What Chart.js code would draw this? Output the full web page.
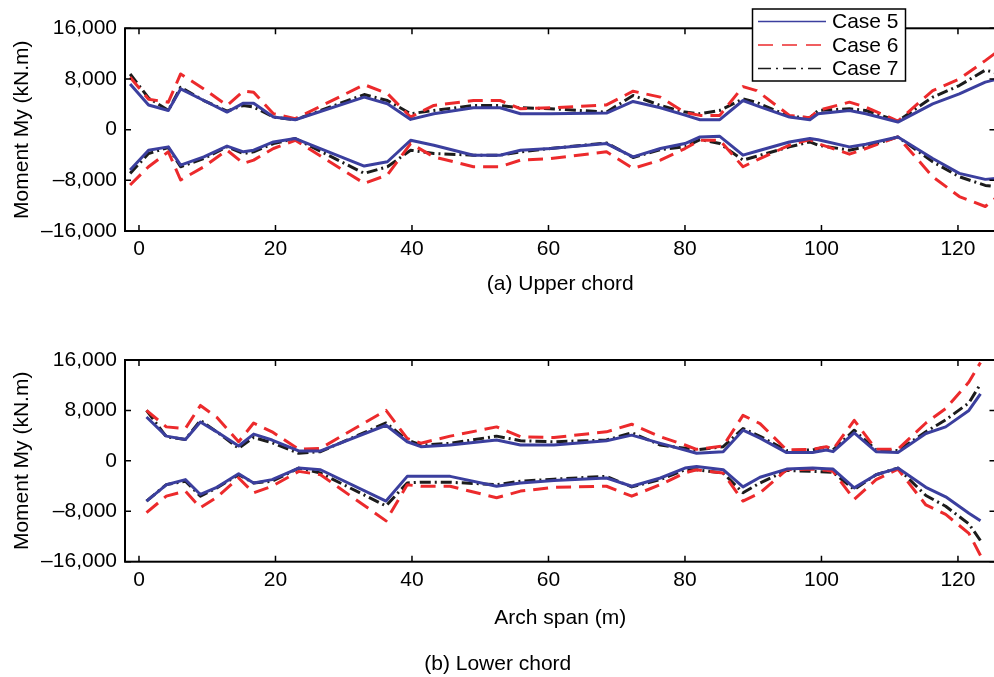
<!DOCTYPE html>
<html><head><meta charset="utf-8">
<script src="https://cdn.jsdelivr.net/npm/chart.js@4/dist/chart.umd.min.js"></script>
<style>
html,body{margin:0;padding:0;background:#fff;overflow:hidden;width:994px;height:677px;position:relative;}
#c1{position:absolute;left:0;top:0;}
#c2{position:absolute;left:0;top:330px;}
</style></head><body>
<canvas id="c1" width="1000" height="301"></canvas>
<canvas id="c2" width="1000" height="347"></canvas>
<script>
// ---------- data ----------
const caseNames = ['Case 5', 'Case 6', 'Case 7'];
const xTicks = [0, 20, 40, 60, 80, 100, 120];
const yTicks = [-16000, -8000, 0, 8000, 16000];

// (a) Upper chord
const upperX = [-1.3, 1.4, 4.3, 6.1, 9.5, 12.9, 15.3, 16.8, 19.7, 22.9, 33.0, 36.4, 39.8, 43.2, 49.0, 52.9, 55.9, 60.3, 68.5, 72.4, 76.4, 80.0, 82.2, 85.1, 88.5, 90.5, 95.3, 98.3, 99.5, 104.1, 106.5, 111.2, 116.3, 120.2, 124.0, 125.5];
const upperC5Max = [7220, 3900, 3030, 6430, 4600, 2770, 4180, 4180, 1990, 1570, 5130, 4080, 1620, 2510, 3450, 3450, 2510, 2510, 2610, 4450, 3450, 2300, 1570, 1570, 4600, 3800, 1990, 1570, 2510, 3030, 2510, 1200, 4080, 5650, 7500, 7900];
const upperC6Max = [8260, 4800, 4340, 8790, 6430, 3820, 6070, 5900, 2510, 1730, 7100, 5700, 1990, 3820, 4600, 4600, 3300, 3450, 3900, 6070, 5130, 2700, 2250, 2250, 6800, 6170, 2250, 1880, 3030, 4340, 3560, 1360, 6170, 8000, 10900, 12100];
const upperC7Max = [8790, 5000, 3030, 6690, 4600, 2930, 3820, 3560, 1990, 1570, 5540, 4600, 2510, 3030, 3820, 3820, 3450, 3300, 2770, 5390, 3820, 2770, 2510, 3030, 4860, 4300, 2090, 1880, 3030, 3300, 3030, 1360, 5130, 6960, 9400, 9000];
const upperC5Min = [-6380, -3240, -2720, -5600, -4290, -2600, -3500, -3240, -1940, -1410, -5750, -5070, -1670, -2460, -4030, -4030, -3240, -2980, -2200, -4290, -2980, -2200, -1150, -1050, -4030, -3400, -1940, -1410, -1600, -2720, -2300, -1150, -4550, -6900, -7850, -7700];
const upperC6Min = [-8730, -5860, -3500, -7950, -5860, -3240, -5330, -4810, -2980, -1670, -8470, -7160, -2200, -4290, -5860, -5860, -4810, -4550, -3500, -6120, -4810, -2980, -1670, -1670, -5860, -4810, -2460, -1570, -2200, -3870, -2980, -1150, -7430, -10560, -12130, -10830];
const upperC7Min = [-6900, -3770, -2820, -5860, -4550, -2720, -3770, -3500, -2200, -1410, -6900, -5860, -3240, -3770, -4030, -4030, -3500, -2980, -2090, -4390, -3140, -2720, -1570, -2200, -4810, -4200, -2720, -1940, -2460, -3240, -2720, -1150, -5070, -7430, -8800, -9000];

// (b) Lower chord
const lowerX = [1.1, 4.0, 6.8, 9.0, 11.4, 14.6, 16.8, 19.5, 23.4, 26.6, 36.2, 39.3, 41.3, 45.6, 52.4, 55.9, 60.8, 68.5, 72.2, 76.4, 80.0, 81.7, 85.6, 88.5, 91.0, 94.9, 98.7, 100.7, 101.7, 104.8, 108.0, 111.2, 115.3, 118.2, 121.6, 123.3];
const lowerC5Max = [6960, 3920, 3400, 6170, 4600, 2350, 4240, 3300, 1570, 1570, 5650, 3030, 2250, 2510, 3300, 2510, 2510, 3190, 4080, 2770, 1730, 1200, 1460, 4860, 3600, 1310, 1310, 1730, 1460, 4450, 1460, 1310, 4340, 5390, 8000, 10620];
const lowerC6Max = [8000, 5390, 5130, 8790, 6900, 3030, 6000, 4600, 1830, 1990, 8000, 3560, 2800, 3920, 5390, 3820, 3710, 4600, 5810, 3820, 2510, 1830, 2350, 7220, 5910, 1730, 1830, 2250, 1830, 6430, 1830, 1830, 6000, 8300, 12500, 15600];
const lowerC7Max = [8000, 3820, 3400, 6430, 4600, 1990, 3710, 2880, 1200, 1460, 6010, 3300, 2510, 2770, 3920, 3190, 3030, 3300, 4450, 2510, 1990, 1730, 2250, 5130, 3900, 1620, 1730, 2250, 1730, 4860, 1730, 1620, 4600, 6500, 9200, 12190];
const lowerC5Min = [-6380, -3800, -2980, -5330, -4200, -2040, -3500, -2980, -1150, -1410, -6380, -2460, -2460, -2460, -4030, -3500, -3100, -2720, -4030, -2720, -1150, -890, -1410, -4130, -2600, -1310, -1150, -1250, -1310, -4290, -2200, -1150, -4200, -5700, -8300, -9520];
const lowerC6Min = [-8210, -5600, -4810, -7430, -5800, -2720, -5070, -4030, -1670, -2200, -9520, -3800, -4030, -4030, -5860, -4800, -4200, -4030, -5600, -3770, -1900, -1410, -1940, -6380, -5070, -1410, -1310, -1500, -1670, -6120, -2980, -1310, -7000, -8500, -11500, -15010];
const lowerC7Min = [-6380, -3770, -3240, -5600, -4290, -2200, -3500, -3240, -1150, -1940, -7160, -3500, -3400, -3400, -3770, -3240, -2900, -2460, -4130, -2980, -1410, -1410, -1940, -5070, -3500, -1520, -1670, -1750, -1830, -4550, -2200, -1150, -5500, -7200, -10000, -12660];

// ---------- styles ----------
const caseStyles = [
  { color: '#3b3f9e', dash: [], width: 3 },
  { color: '#ec2a2c', dash: [15, 8], width: 3 },
  { color: '#1c1c1c', dash: [11, 4, 2, 4], width: 3 }
];
const FONT = '"Liberation Sans", Arial, Helvetica, sans-serif';
Chart.defaults.font.family = FONT;
Chart.defaults.font.size = 21;
Chart.defaults.color = '#000';

function pts(xs, ys) { return xs.map((x, i) => ({ x: x, y: ys[i] })); }

function makeDatasets(xs, seriesByCase) {
  const out = [];
  seriesByCase.forEach((pair, ci) => {
    pair.forEach(ys => {
      out.push({
        label: caseNames[ci],
        data: pts(xs, ys),
        borderColor: caseStyles[ci].color,
        borderDash: caseStyles[ci].dash,
        borderWidth: caseStyles[ci].width,
        pointRadius: 0,
        tension: 0,
        fill: false,
        borderJoinStyle: 'round'
      });
    });
  });
  return out;
}

const framePlugin = {
  id: 'frame',
  afterDatasetsDraw(chart) {
    const { ctx, chartArea: a, scales } = chart;
    const x = scales.x, y = scales.y;
    ctx.save();
    ctx.strokeStyle = '#000';
    ctx.lineWidth = 1.5;
    ctx.setLineDash([]);
    ctx.beginPath();
    x.ticks.forEach(t => {
      const px = x.getPixelForValue(t.value);
      ctx.moveTo(px, a.bottom); ctx.lineTo(px, a.bottom - 6);
      ctx.moveTo(px, a.top); ctx.lineTo(px, a.top + 6);
    });
    y.ticks.forEach(t => {
      const py = y.getPixelForValue(t.value);
      ctx.moveTo(a.left, py); ctx.lineTo(a.left + 6, py);
      ctx.moveTo(a.right, py); ctx.lineTo(a.right - 6, py);
    });
    ctx.stroke();
    ctx.lineWidth = 2;
    ctx.strokeRect(a.left, a.top, a.right - a.left, a.bottom - a.top);
    ctx.restore();
  }
};

const legendPlugin = {
  id: 'caseLegend',
  afterDraw(chart) {
    const ctx = chart.ctx;
    const bx = 752.5, by = 9, bw = 153, bh = 72;
    ctx.save();
    ctx.fillStyle = '#fff';
    ctx.fillRect(bx, by, bw, bh);
    ctx.strokeStyle = '#000';
    ctx.lineWidth = 1.5;
    ctx.setLineDash([]);
    ctx.strokeRect(bx, by, bw, bh);
    const rows = [21.5, 45, 68.5];
    caseNames.forEach((name, i) => {
      const st = caseStyles[i];
      ctx.strokeStyle = st.color;
      ctx.lineWidth = 1.5;
      ctx.setLineDash(i === 1 ? [15, 9] : (i === 2 ? [13, 5, 2, 5] : []));
      ctx.beginPath();
      ctx.moveTo(758, rows[i]);
      ctx.lineTo(826, rows[i]);
      ctx.stroke();
      ctx.setLineDash([]);
      ctx.fillStyle = '#000';
      ctx.font = '21px ' + FONT;
      ctx.textAlign = 'left';
      ctx.textBaseline = 'middle';
      ctx.fillText(name, 832, rows[i] + 1);
    });
    ctx.restore();
  }
};

function fmt(v) {
  const s = Math.abs(v).toLocaleString('en-US');
  return v < 0 ? '\u2013' + s : s;
}

function makeOptions(cfg) {
  return {
    responsive: false,
    animation: false,
    devicePixelRatio: 1,
    layout: { padding: { top: cfg.padTop, right: 4.5, left: 0, bottom: 0 } },
    plugins: {
      legend: { display: false },
      tooltip: { enabled: false },
      title: cfg.title ? {
        display: true, position: 'bottom', text: cfg.title,
        font: { size: 21, weight: 'normal' }, color: '#000',
        padding: { top: 10, bottom: 0 }
      } : { display: false }
    },
    scales: {
      x: {
        type: 'linear', min: -2.05, max: 125.5,
        grid: { display: false, drawTicks: false },
        border: { display: false },
        afterBuildTicks: s => { s.ticks = xTicks.map(v => ({ value: v })); },
        afterFit: s => { s.height = cfg.xHeight; },
        ticks: { padding: 6, font: { size: 21 }, color: '#000', maxRotation: 0, autoSkip: false },
        title: { display: true, text: cfg.xTitle, font: { size: 21 }, color: '#000', padding: { top: 0, bottom: cfg.xTitlePad } }
      },
      y: {
        type: 'linear', min: -16000, max: 16000,
        grid: { display: false, drawTicks: false },
        border: { display: false },
        afterBuildTicks: s => { s.ticks = yTicks.map(v => ({ value: v })); },
        afterFit: s => { s.width = 125; },
        ticks: { padding: 8, font: { size: 21 }, color: '#000', callback: v => fmt(v) },
        title: { display: true, text: 'Moment My (kN.m)', font: { size: 21 }, color: '#000', padding: { top: 10, bottom: 0 } }
      }
    }
  };
}

new Chart(document.getElementById('c1'), {
  type: 'line',
  data: { datasets: makeDatasets(upperX, [[upperC5Max, upperC5Min], [upperC6Max, upperC6Min], [upperC7Max, upperC7Min]]) },
  options: makeOptions({ padTop: 28.3, xHeight: 70, xTitle: '(a) Upper chord', xTitlePad: 4.4, title: null }),
  plugins: [framePlugin, legendPlugin]
});

new Chart(document.getElementById('c2'), {
  type: 'line',
  data: { datasets: makeDatasets(lowerX, [[lowerC5Max, lowerC5Min], [lowerC6Max, lowerC6Min], [lowerC7Max, lowerC7Min]]) },
  options: makeOptions({ padTop: 30, xHeight: 80.1, xTitle: 'Arch span (m)', xTitlePad: 11.2, title: '(b) Lower chord' }),
  plugins: [framePlugin]
});
</script>
</body></html>
